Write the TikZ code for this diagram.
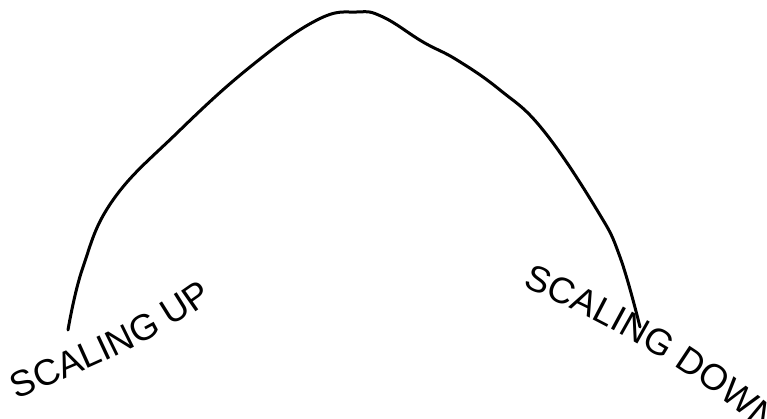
\documentclass[tikz,border=0pt]{standalone}
\usepackage{fontspec}
\setmainfont{Liberation Sans}
\usetikzlibrary{decorations.text}
\begin{document}
\begin{tikzpicture}[
  x=1pt, y=-1pt,
  arc/.style={line width=3pt, line join=round, line cap=round},
  tag/.style={decorate, decoration={text along path, text align=center,
    text={|\fontsize{36.5}{40}\selectfont|#1}}}
]
\useasboundingbox (0,0) rectangle (767,419);

% the rise and fall
\draw[arc] plot[smooth, tension=0.7] coordinates {
  (68,330) (83,267) (113,200) (177,133)
  (250,67) (317,20) (357,12) (383,17) (423,42) (457,60)
  (500,90) (543,130) (597,210) (620,257) (640,327)};

% labels along the ends
\path[tag={SCALING UP}] (12,401) .. controls (80,372) and (152,345) .. (217,296);
\path[tag={SCALING DOWN}] (534,292) .. controls (604,322) and (684,366) .. (756,426);

\end{tikzpicture}
\end{document}
